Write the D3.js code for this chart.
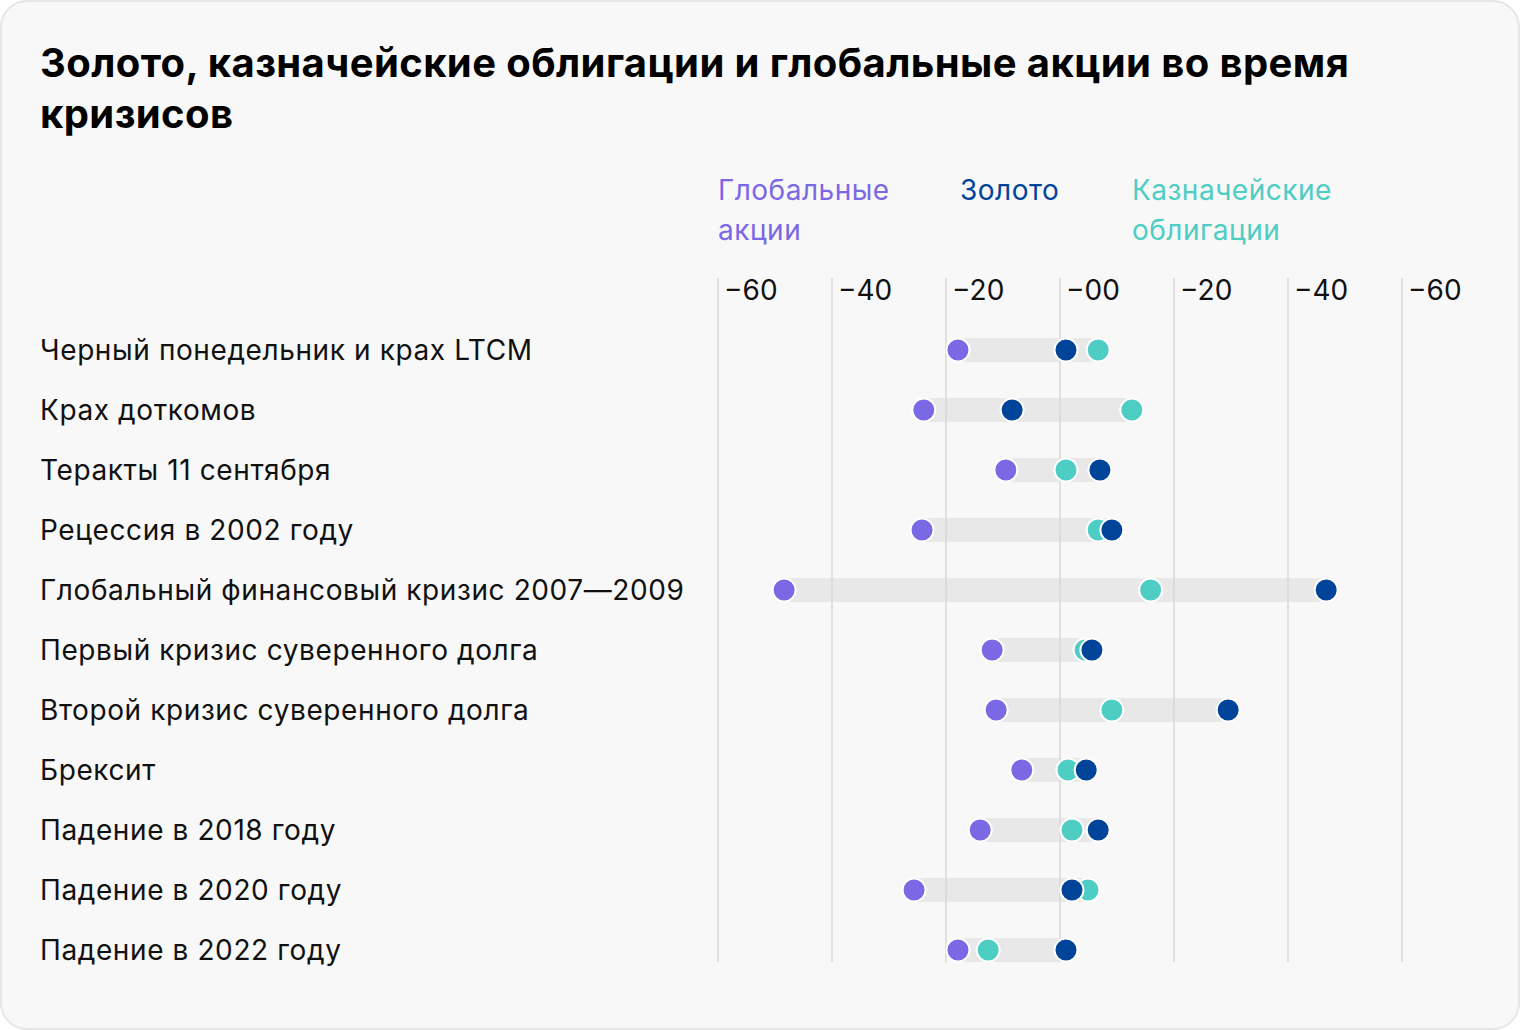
<!DOCTYPE html>
<html><head><meta charset="utf-8">
<script src="https://cdn.jsdelivr.net/npm/d3@7"></script>
<style>
html,body{margin:0;padding:0;background:#fff;}
svg{display:block;}
</style></head>
<body>
<script>
const categories = [
  "Черный понедельник и крах LTCM",
  "Крах доткомов",
  "Теракты 11 сентября",
  "Рецессия в 2002 году",
  "Глобальный финансовый кризис 2007—2009",
  "Первый кризис суверенного долга",
  "Второй кризис суверенного долга",
  "Брексит",
  "Падение в 2018 году",
  "Падение в 2020 году",
  "Падение в 2022 году"
];
const equities   = [-17.9, -23.9, -9.5, -24.2, -48.4, -11.9, -11.2, -6.7, -14.0, -25.6, -17.9];
const treasuries = [6.7, 12.6, 1.05, 6.7, 15.9, 4.4, 9.1, 1.4, 2.1, 4.9, -12.6];
const gold       = [1.05, -8.4, 7.0, 9.1, 46.7, 5.6, 29.5, 4.6, 6.7, 2.1, 1.05];
const tickValues = [-60, -40, -20, 0, 20, 40, 60];
const tickLabels = ["−60", "−40", "−20", "−00", "−20", "−40", "−60"];
const seriesNames = ["Глобальные\nакции", "Золото", "Казначейские\nоблигации"];

const W = 1520, H = 1030;
const colors = {eq: "#7B68E4", gold: "#00449A", tr: "#4ECDC4"};
const font = "Inter, 'Noto Sans', sans-serif";

const svg = d3.select("body").append("svg").attr("width", W).attr("height", H);
svg.append("rect").attr("x", 1).attr("y", 1).attr("width", W - 2).attr("height", H - 2)
  .attr("rx", 26).attr("fill", "#f8f8f8").attr("stroke", "#e6e6e6").attr("stroke-width", 2);

// title
const title = svg.append("text").attr("font-family", font).attr("font-weight", 700)
  .attr("font-size", 40).attr("fill", "#000").attr("letter-spacing", 0.4);
title.append("tspan").attr("x", 40).attr("y", 77).text("Золото, казначейские облигации и глобальные акции во время");
title.append("tspan").attr("x", 40).attr("y", 128).text("кризисов");

const x = d3.scaleLinear().domain([-60, 60]).range([718, 1402]);
const y = d3.scalePoint().domain(categories).range([350, 950]);

// gridlines
svg.append("g").selectAll("line").data(tickValues).join("line")
  .attr("x1", d => x(d)).attr("x2", d => x(d)).attr("y1", 278).attr("y2", 962)
  .attr("stroke", "#e0e0e0").attr("stroke-width", 2);

// tick labels
svg.append("g").selectAll("text").data(tickValues).join("text")
  .attr("x", d => x(d) + 6).attr("y", 300)
  .attr("font-family", font).attr("font-size", 28).attr("fill", "#111")
  .text((d, i) => tickLabels[i]);

// legend
const legendX = [718, 960, 1132];
const legendC = [colors.eq, colors.gold, colors.tr];
seriesNames.forEach((n, i) => {
  const t = svg.append("text").attr("font-family", font).attr("font-size", 28)
    .attr("letter-spacing", 0.5).attr("fill", legendC[i]);
  n.split("\n").forEach((line, j) => {
    t.append("tspan").attr("x", legendX[i]).attr("y", 200 + j * 40).text(line);
  });
});

// category labels
svg.append("g").selectAll("text").data(categories).join("text")
  .attr("x", 40).attr("y", d => y(d) + 10)
  .attr("font-family", font).attr("font-size", 28).attr("letter-spacing", 0.6).attr("fill", "#111")
  .text(d => d);

const rows = categories.map((c, i) => ({c, eq: equities[i], tr: treasuries[i], gold: gold[i]}));

// range bars
svg.append("g").selectAll("rect").data(rows).join("rect")
  .attr("x", d => x(Math.min(d.eq, d.tr, d.gold)))
  .attr("width", d => x(Math.max(d.eq, d.tr, d.gold)) - x(Math.min(d.eq, d.tr, d.gold)))
  .attr("y", d => y(d.c) - 12).attr("height", 24)
  .attr("fill", "#d8d8d8").attr("fill-opacity", 0.5);

// dots: equities, treasuries, gold (gold on top)
[["eq", colors.eq], ["tr", colors.tr], ["gold", colors.gold]].forEach(([k, col]) => {
  svg.append("g").selectAll("circle").data(rows).join("circle")
    .attr("cx", d => x(d[k])).attr("cy", d => y(d.c)).attr("r", 11.5)
    .attr("fill", col).attr("stroke", "#fff").attr("stroke-width", 2);
});
</script>
</body></html>
